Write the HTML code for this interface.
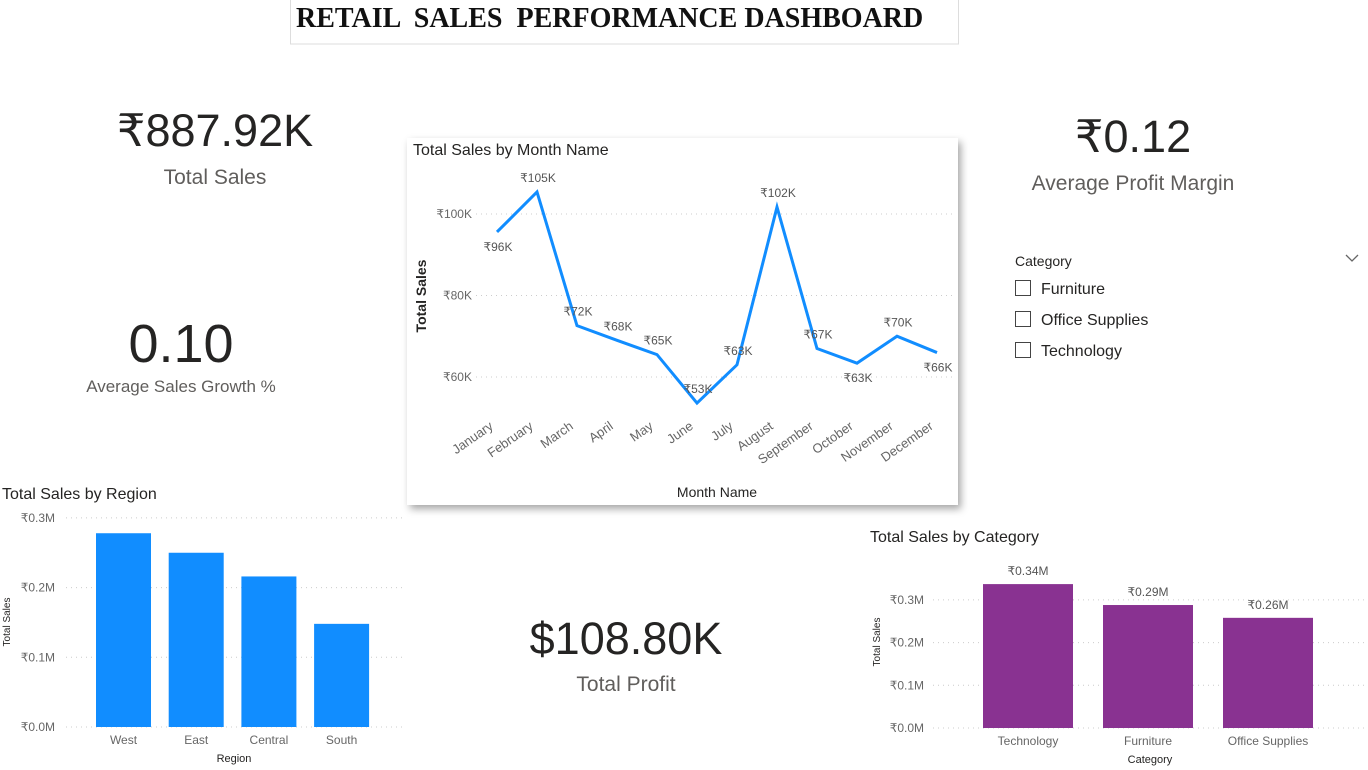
<!DOCTYPE html>
<html><head><meta charset="utf-8"><style>
body{margin:0;width:1368px;height:770px;background:#fff;overflow:hidden;font-family:"Liberation Sans",sans-serif;}
svg{position:absolute;left:0;top:0}
</style></head><body>
<svg id="s" width="1368" height="770" xmlns="http://www.w3.org/2000/svg" font-family="Liberation Sans, sans-serif">
<defs><filter id="sh" x="-5%" y="-5%" width="112%" height="115%"><feDropShadow dx="3" dy="4" stdDeviation="4" flood-color="#000" flood-opacity="0.35"/></filter></defs>
<g>
<rect x="290.5" y="-1" width="668" height="45" fill="#fff" stroke="#ddd"/>
<text x="296" y="27" xml:space="preserve" style="white-space:pre" font-family="Liberation Serif, serif" font-weight="bold" font-size="28" fill="#111">RETAIL  SALES  PERFORMANCE DASHBOARD</text>
</g>
<g>
<text x="215" y="146" text-anchor="middle" font-size="45" fill="#252423">₹887.92K</text>
<text x="215" y="184" text-anchor="middle" font-size="21" fill="#605e5c">Total Sales</text></g>
<g>
<text x="181" y="362" text-anchor="middle" font-size="54" fill="#252423">0.10</text>
<text x="181" y="392" text-anchor="middle" font-size="17" fill="#605e5c">Average Sales Growth %</text></g>
<g>
<text x="1133" y="152" text-anchor="middle" font-size="45" fill="#252423">₹0.12</text>
<text x="1133" y="190" text-anchor="middle" font-size="21" fill="#605e5c">Average Profit Margin</text></g>
<g>
<text x="626" y="654" text-anchor="middle" font-size="45" fill="#252423">$108.80K</text>
<text x="626" y="691" text-anchor="middle" font-size="21" fill="#605e5c">Total Profit</text></g>
<g>
<text x="1015" y="266" font-size="14" fill="#252423">Category</text>
<path d="M1346 255 l6 6 l6 -6" fill="none" stroke="#666" stroke-width="1.3"/>
<g><rect x="1015.5" y="280.5" width="15" height="15" fill="#fff" stroke="#444"/><text x="1041" y="294" font-size="16" fill="#252423">Furniture</text></g>
<g><rect x="1015.5" y="311.5" width="15" height="15" fill="#fff" stroke="#444"/><text x="1041" y="325" font-size="16" fill="#252423">Office Supplies</text></g>
<g><rect x="1015.5" y="342.5" width="15" height="15" fill="#fff" stroke="#444"/><text x="1041" y="356" font-size="16" fill="#252423">Technology</text></g>
</g>
<rect x="407" y="138" width="551" height="367" fill="#fff" filter="url(#sh)"/>
<g id="lc"></g>
<g id="rc"></g>
<g id="cc"></g>
</svg>
<script>
const months=["January","February","March","April","May","June","July","August","September","October","November","December"];
const monthSales=[95.6,105.4,72.6,69,65.5,53.6,63,101.7,67,63.4,70,66];
const monthLabels=["₹96K","₹105K","₹72K","₹68K","₹65K","₹53K","₹63K","₹102K","₹67K","₹63K","₹70K","₹66K"];
const monthLabelAbove=[false,true,true,true,true,true,true,true,true,false,true,false];
const monthTicks=[60,80,100];
const regions=["West","East","Central","South"];
const regionSales=[0.278,0.25,0.216,0.148];
const regionTicks=[0,0.1,0.2,0.3];
const categories=["Technology","Furniture","Office Supplies"];
const categorySales=[0.337,0.288,0.258];
const categoryLabels=["₹0.34M","₹0.29M","₹0.26M"];
const categoryTicks=[0,0.1,0.2,0.3];
const NS="http://www.w3.org/2000/svg";
function mk(p,t,a,txt){const e=document.createElementNS(NS,t);for(const k in a)e.setAttribute(k,a[k]);if(txt!=null)e.textContent=txt;p.appendChild(e);return e;}
(function(){
const g=document.getElementById('lc');
const y=v=>214+(100-v)*81.5/20, x=i=>497+i*(937-497)/11;
mk(g,'text',{x:413,y:155,'font-size':16,fill:'#252423'},'Total Sales by Month Name');
monthTicks.forEach(t=>{
const l=mk(g,'line',{x1:476,x2:952,y1:y(t),y2:y(t),stroke:'#ccc','stroke-dasharray':'1 4'});


const tx=mk(g,'text',{x:472,y:y(t)+4,'text-anchor':'end','font-size':12,fill:'#666'},'₹'+t+'K');

});
const yt=mk(g,'text',{transform:'translate(426,296) rotate(-90)','text-anchor':'middle','font-size':14,'font-weight':'bold',fill:'#252423'},'Total Sales');


const ln=mk(g,'polyline',{points:monthSales.map((v,i)=>x(i)+','+y(v)).join(' '),fill:'none',stroke:'#118DFF','stroke-width':3,'stroke-linejoin':'miter'});


monthSales.forEach((v,i)=>{
const dl=mk(g,'text',{x:x(i)+1,y:monthLabelAbove[i]?y(v)-10:y(v)+19,'text-anchor':'middle','font-size':12,fill:'#555'},monthLabels[i]);


const ml=mk(g,'text',{transform:`translate(${x(i)-3},${428}) rotate(-35)`,'text-anchor':'end','font-size':13,fill:'#666'},months[i]);

});
const xt=mk(g,'text',{x:717,y:497,'text-anchor':'middle','font-size':14,fill:'#252423'},'Month Name');


})();
function bars(id,title,tx,ty,cats,vals,ticks,y0,ppu,x0,step,bw,color,gl1,gl2,tickX,ytX,ytY,xtX,xtY,labels,prefix){
const g=document.getElementById(id);
const y=v=>y0-v*ppu;
mk(g,'text',{x:tx,y:ty,'font-size':16,fill:'#252423'},title);
ticks.forEach(t=>{
const l=mk(g,'line',{x1:gl1,x2:gl2,y1:y(t),y2:y(t),stroke:'#ccc','stroke-dasharray':'1 4'});


const e=mk(g,'text',{x:tickX,y:y(t)+4,'text-anchor':'end','font-size':12,fill:'#666'},'₹'+t.toFixed(1)+'M');

});
vals.forEach((v,i)=>{
const r=mk(g,'rect',{x:x0+i*step,y:y(v),width:bw,height:v*ppu,fill:color});


const c=mk(g,'text',{x:x0+i*step+bw/2,y:y0+17,'text-anchor':'middle','font-size':12,fill:'#666'},cats[i]);


if(labels){const d=mk(g,'text',{x:x0+i*step+bw/2,y:y(v)-9,'text-anchor':'middle','font-size':12,fill:'#555'},labels[i]);

}});
const a=mk(g,'text',{transform:`translate(${ytX},${ytY}) rotate(-90)`,'text-anchor':'middle','font-size':10,fill:'#252423'},'Total Sales');


const b=mk(g,'text',{x:xtX,y:xtY,'text-anchor':'middle','font-size':11,fill:'#252423'},prefix==='region'?'Region':'Category');


}
bars('rc','Total Sales by Region',2,499,regions,regionSales,regionTicks,727,697,96,72.7,55,'#118DFF',66,402,55,10,622,234,762,null,'region');
bars('cc','Total Sales by Category',870,542,categories,categorySales,categoryTicks,728,427,983,120,90,'#893291',933,1366,924,880,642,1150,763,categoryLabels,'category');
</script>
</body></html>
